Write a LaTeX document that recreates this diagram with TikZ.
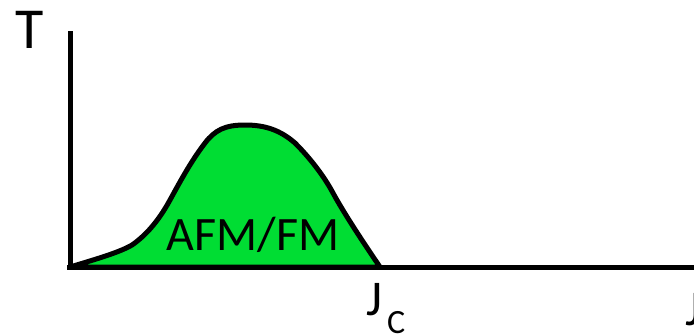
\documentclass[tikz,border=0pt]{standalone}
\usepackage{fontspec}
\setmainfont{Carlito}
\usepackage{xcolor}
\definecolor{phasegreen}{RGB}{0,221,51}

\begin{document}
\begin{tikzpicture}[x=1pt,y=-1pt,
      axis/.style={line width=5pt,black},
      lbl/.style={inner sep=0pt,anchor=base,font=\fontsize{50}{50}\selectfont},
      phase/.style={fill=phasegreen,draw=black,line width=5pt,line join=round}]
    \useasboundingbox (0,0) rectangle (694,333);
    \coordinate (origin) at (70,267);
    \coordinate (ytop) at (70,31);
    \coordinate (xend) at (700,267);
    \coordinate (jc) at (380,267);
    % phase region
    \draw[phase] (origin) .. controls (100,258) and (120,252) .. (132,245)
      .. controls (145,236) and (158,222) .. (170,200)
      .. controls (182,178) and (192,160) .. (205,143)
      .. controls (215,130) and (225,125) .. (245,125)
      .. controls (265,125) and (280,130) .. (295,143)
      .. controls (312,160) and (325,178) .. (333,193)
      .. controls (345,215) and (365,245) .. (jc) -- cycle;
    % axes
    \draw[axis] (ytop) -- (70,269);
    \draw[axis] (67,267) -- (xend);
    \node[lbl,font=\fontsize{58}{58}\selectfont] (tlabel) at (30,48) {T};
    \node[lbl,font=\fontsize{48}{48}\selectfont] (phaselabel) at (253,250) {AFM/FM};
    \node[lbl,anchor=base west] (jclabel) at (366,315) {J\hspace{5pt}\raisebox{-18pt}{\fontsize{34}{34}\selectfont C}};
    \node[lbl,anchor=base west] (jlabel) at (685,325) {J};
  \end{tikzpicture}
\end{document}
